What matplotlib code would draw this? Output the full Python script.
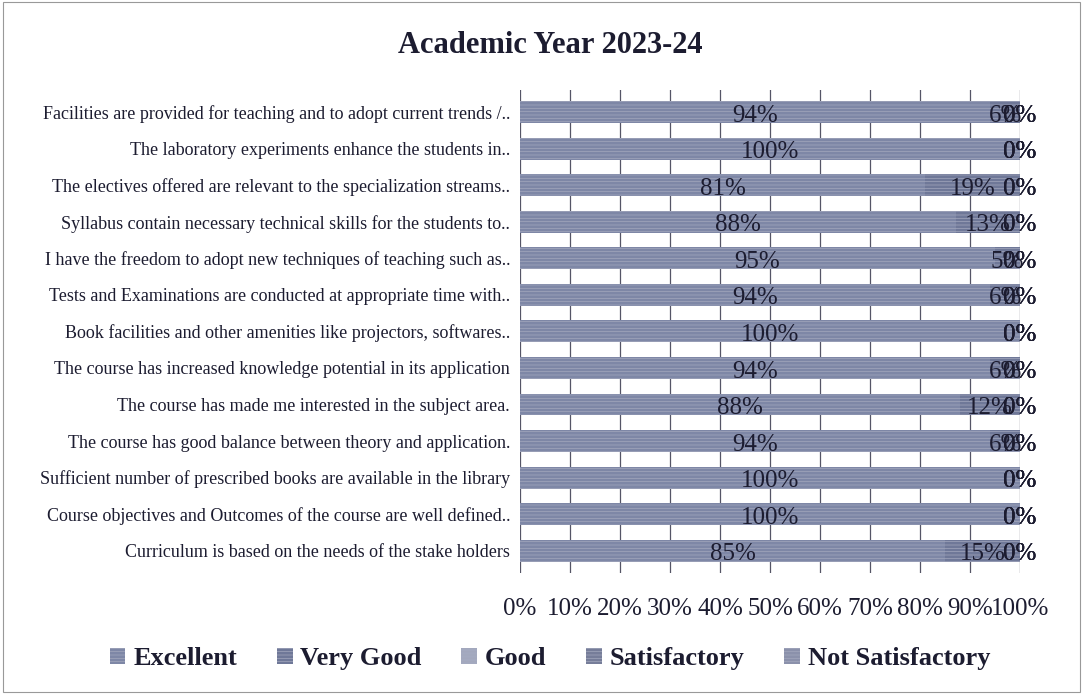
import numpy as np
from matplotlib import pyplot as plt
from matplotlib.ticker import FuncFormatter

questions = [
    "Facilities are provided for teaching and to adopt current trends /..",
    "The laboratory experiments enhance the students in..",
    "The electives offered are relevant to the specialization streams..",
    "Syllabus contain necessary technical skills for the students to..",
    "I have the freedom to adopt new techniques of teaching such as..",
    "Tests and Examinations are conducted at appropriate time with..",
    "Book facilities and other amenities like projectors, softwares..",
    "The course has increased knowledge potential in its application",
    "The course has made me interested in the subject area.",
    "The course has good balance between theory and application.",
    "Sufficient number of prescribed books are available in the library",
    "Course objectives and Outcomes of the course are well defined..",
    "Curriculum is based on the needs of the stake holders",
]
excellent = [94, 100, 81, 88, 95, 94, 100, 94, 88, 94, 100, 100, 85]
very_good = [6, 0, 19, 13, 5, 6, 0, 6, 12, 6, 0, 0, 15]
good = [0] * 13
satisfactory = [0] * 13
not_satisfactory = [0] * 13

series = ["Excellent", "Very Good", "Good", "Satisfactory", "Not Satisfactory"]
colors = ["#7e87a6", "#6f7898", "#a4aac0", "#767d99", "#8b91ab"]

data = np.array([excellent, very_good, good, satisfactory, not_satisfactory], dtype=float)
totals = data.sum(axis=0)
shares = data / totals

plt.rcParams['font.family'] = ['Liberation Serif', 'DejaVu Serif']
plt.rcParams['hatch.linewidth'] = 0.5

fig = plt.figure(figsize=(10.83, 6.94), dpi=100)
ax = fig.add_axes([0.48, 0.175, 0.462, 0.695])

y = np.arange(len(questions))[::-1]
left = np.zeros(len(questions))
for name, col, vals, sh in zip(series, colors, data, shares):
    ax.barh(y, sh, left=left, height=0.6, color=col, edgecolor='#a3a8bd',
            linewidth=0, hatch='-----', label=name, zorder=2)
    for yi, l, s, v in zip(y, left, sh, vals):
        ax.text(l + s / 2, yi - 0.1, f"{v:.0f}%", ha='center', va='center',
                fontsize=18, color='#1c1c30', zorder=3)
    left += sh

ax.set_xlim(0, 1)
ax.set_ylim(-0.6, len(questions) - 0.4)
ax.set_xticks(np.linspace(0, 1, 11))
ax.xaxis.set_major_formatter(FuncFormatter(lambda v, p: f"{v * 100:.0f}%"))
ax.tick_params(axis='x', labelsize=18, length=0, pad=18, colors='#1c1c30')
ax.set_yticks(y)
ax.set_yticklabels(questions, fontsize=13, color='#1c1c30')
ax.tick_params(axis='y', length=0, pad=7)
ax.grid(axis='x', color='#555566', linewidth=0.9, zorder=1)
for s in ax.spines.values():
    s.set_visible(False)

fig.suptitle("Academic Year 2023-24", x=0.508, y=0.955, fontsize=22,
             fontweight='bold', color='#1c1c30')

leg = fig.legend(loc='lower center', bbox_to_anchor=(0.508, 0.0), ncol=5,
                 frameon=False, prop={'weight': 'bold', 'size': 19},
                 handlelength=0.6, handleheight=0.6, handletextpad=0.3,
                 columnspacing=1.5)
for t in leg.get_texts():
    t.set_color('#1c1c30')

fig.patches.append(plt.Rectangle((0.003, 0.003), 0.994, 0.994, transform=fig.transFigure,
                                 fill=False, edgecolor='#999999', linewidth=0.8))

fig.savefig("out.png")
plt.close()
